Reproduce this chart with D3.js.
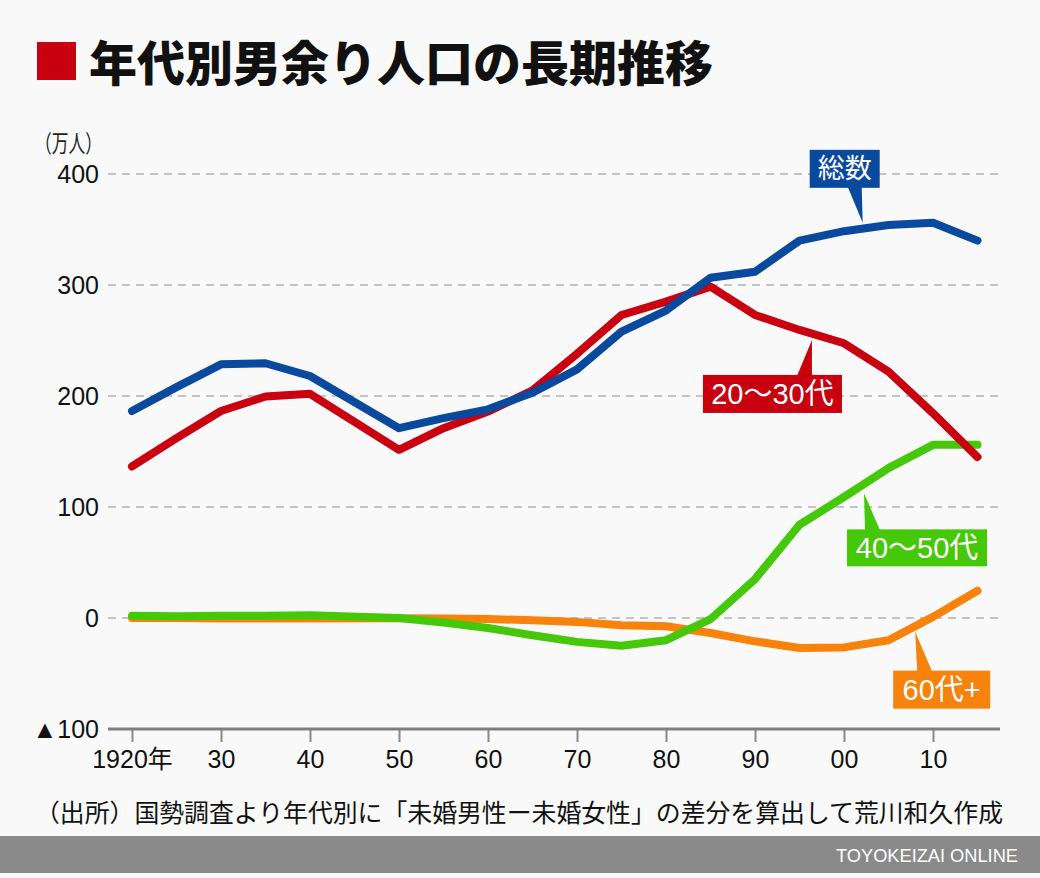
<!DOCTYPE html>
<html><head><meta charset="utf-8">
<script src="https://cdn.jsdelivr.net/npm/d3@7"></script>
<style>
html,body{margin:0;padding:0;background:#f9f9f9;}
svg{display:block;}
</style></head>
<body>
<svg id="c" width="1040" height="878"></svg>
<script>
// ---- data ----
const years = [1920,1925,1930,1935,1940,1950,1955,1960,1965,1970,1975,1980,1985,1990,1995,2000,2005,2010,2015];
const total   = [186.5,208,228.5,229.5,218,171,180,188,203,224,258,277,306.5,312,340,348.5,354,356,340];
const age2030 = [136.5,162,186.5,199.5,202,151.5,171,186,205,238,273,285,298.5,273,259.5,247.5,222,184.5,145];
const age4050 = [2,1.5,2,2,2.5,0,-4,-9,-15.5,-21.5,-25,-20,-1,35,84,109,135,156,156];
const age60   = [0,0,-0.5,-0.5,-0.5,-0.3,-0.5,-1,-2,-3.5,-6.5,-7.5,-13.5,-21,-27,-26.5,-20,1,24.5];
const xTicks = [1920,1930,1940,1950,1960,1970,1980,1990,2000,2010];
const xTickLabels = ["1920年","30","40","50","60","70","80","90","00","10"];
const yTicks = [-100,0,100,200,300,400];
const yTickLabels = ["▲100","0","100","200","300","400"];
const seriesNames = ["60代+","40～50代","20～30代","総数"];
const seriesColors = ["#f7820c","#46c80a","#c8000f","#0a4a9e"];
const seriesValues = [age60, age4050, age2030, total];
const title = "年代別男余り人口の長期推移";
const unitLabel = "（万人）";
const sourceText = "（出所）国勢調査より年代別に「未婚男性ー未婚女性」の差分を算出して荒川和久作成";
const brand = "TOYOKEIZAI ONLINE";
// annotation anchors (year, value) on each series
const annYear  = [2008.0, 2002.25, 1996.4, 2002.1];
const annValue = [-12.3, 112.3, 250.5, 356];

const FONT = "'Liberation Sans','Noto Sans CJK JP',sans-serif";
const svg = d3.select("#c");
svg.append("rect").attr("width",1040).attr("height",878).attr("fill","#f9f9f9");

const x = d3.scaleLinear().domain([1920,2010]).range([132,933]);
const y = d3.scaleLinear().domain([-100,400]).range([729,174]);
const L = 108, R = 1000;

// title
svg.append("rect").attr("x",37).attr("y",42).attr("width",39).attr("height",38).attr("fill","#c8000f");
svg.append("text").attr("x",89).attr("y",81).text(title)
  .attr("font-family","'Noto Sans CJK JP',sans-serif").attr("font-weight",900)
  .attr("font-size",48).attr("fill","#111");

// unit
svg.append("text").attr("x",35).attr("y",152).text(unitLabel)
  .attr("font-family","'Noto Sans CJK JP',sans-serif").attr("font-size",24)
  .attr("textLength",67).attr("lengthAdjust","spacingAndGlyphs").attr("fill","#222");

// gridlines
svg.append("g").selectAll("line").data(yTicks.filter(v=>v!==-100)).join("line")
  .attr("x1",L).attr("x2",R).attr("y1",d=>y(d)).attr("y2",d=>y(d))
  .attr("stroke","#c4c4c4").attr("stroke-width",2).attr("stroke-dasharray","8,6");

// y axis labels
const yAxis = d3.axisLeft(y).tickValues(yTicks).tickSize(0).tickPadding(8)
  .tickFormat((d,i)=>yTickLabels[yTicks.indexOf(d)]);
const gy = svg.append("g").attr("transform",`translate(${L-1},0)`).call(yAxis);
gy.select(".domain").remove();
gy.selectAll("text").attr("font-family",FONT).attr("font-size",25).attr("fill","#111");

// x axis
const xAxis = d3.axisBottom(x).tickValues(xTicks).tickSize(13).tickPadding(8)
  .tickFormat(d=>xTickLabels[xTicks.indexOf(d)]);
const gx = svg.append("g").attr("transform",`translate(0,${y(-100)})`).call(xAxis);
gx.select(".domain").remove();
gx.selectAll(".tick line").attr("stroke","#888").attr("stroke-width",2);
gx.selectAll("text").attr("font-family",FONT).attr("font-size",25).attr("fill","#111");
svg.append("line").attr("x1",L).attr("x2",R).attr("y1",y(-100)).attr("y2",y(-100))
  .attr("stroke","#808080").attr("stroke-width",3);

// lines
const line = d3.line().x((d,i)=>x(years[i])).y(d=>y(d));
svg.append("g").selectAll("path").data(seriesValues).join("path")
  .attr("d",d=>line(d)).attr("fill","none")
  .attr("stroke",(d,i)=>seriesColors[i]).attr("stroke-width",8)
  .attr("stroke-linejoin","round").attr("stroke-linecap","round");

// annotations: box offsets relative to anchor (layout)
const boxes = [
  {dx0:-22,dx1:75, dy0:39, dy1:77, b0:2,  b1:17, fs:29},
  {dx0:-17,dx1:123,dy0:36, dy1:73, b0:1,  b1:16, fs:29},
  {dx0:-109,dx1:30,dy0:35, dy1:73, b0:-15,b1:0,  fs:29},
  {dx0:-53,dx1:17, dy0:-73,dy1:-35,b0:-15,b1:-1, fs:27}
];
const ga = svg.append("g");
seriesNames.forEach((name,i)=>{
  const tx = x(annYear[i]), ty = y(annValue[i]);
  const b = boxes[i];
  const above = b.dy1 < 0;
  const baseY = above ? ty + b.dy1 : ty + b.dy0;
  ga.append("path")
    .attr("d",`M${tx},${ty}L${tx+b.b0},${baseY + (above?-1:1)}L${tx+b.b1},${baseY + (above?-1:1)}Z`)
    .attr("fill",seriesColors[i]);
  ga.append("rect").attr("x",tx+b.dx0).attr("y",ty+b.dy0)
    .attr("width",b.dx1-b.dx0).attr("height",b.dy1-b.dy0).attr("fill",seriesColors[i]);
  ga.append("text").attr("x",tx+(b.dx0+b.dx1)/2).attr("y",ty+(b.dy0+b.dy1)/2)
    .attr("text-anchor","middle").attr("dominant-baseline","central")
    .attr("font-family",FONT).attr("font-size",b.fs).attr("fill","#fff").text(name);
});

// source
svg.append("text").attr("x",35).attr("y",822).text(sourceText)
  .attr("font-family","'Noto Sans CJK JP',sans-serif").attr("font-size",24.6)
  .attr("textLength",968).attr("lengthAdjust","spacingAndGlyphs").attr("fill","#111");

// footer bar
svg.append("rect").attr("x",0).attr("y",836).attr("width",1040).attr("height",37).attr("fill","#8a8a8a");
svg.append("text").attr("x",1018).attr("y",862).attr("text-anchor","end").text(brand)
  .attr("font-family","'Liberation Sans',sans-serif").attr("font-size",18)
  .attr("textLength",182).attr("lengthAdjust","spacingAndGlyphs")
  .attr("fill","#fff");
</script>
</body></html>
